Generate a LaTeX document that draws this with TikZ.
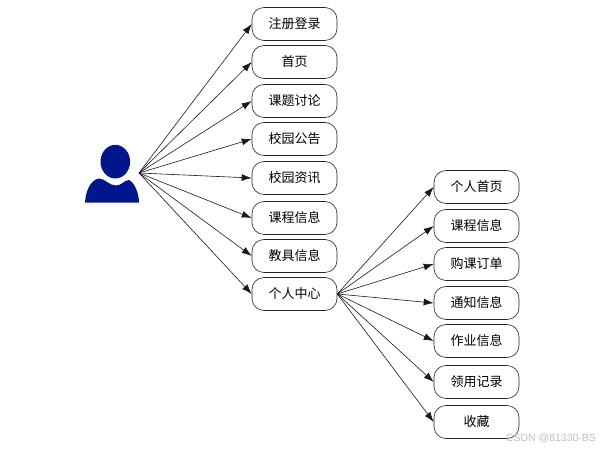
\documentclass[tikz,border=0pt]{standalone}
\usepackage{fontspec}
\setmainfont{Noto Sans CJK SC}
\setsansfont{Liberation Sans}
\usetikzlibrary{arrows.meta}
\definecolor{userblue}{RGB}{0,22,140}
\definecolor{markgray}{RGB}{190,190,190}

\begin{document}
\begin{tikzpicture}[x=1pt, y=-1pt,
    menubox/.style={draw=black!85, line width=0.6pt, rounded corners=12pt, minimum width=85pt, minimum height=33pt, inner sep=0pt, font=\fontsize{13}{15}\selectfont},
    link/.style={-{Latex[length=10pt, width=7pt]}, black!90, line width=0.6pt}]

    \useasboundingbox (0, 0) rectangle (606, 449);

    % ---------------------------------------------------
    % User figure
    % ---------------------------------------------------
    \fill[userblue] (115.3, 161.7) ellipse [x radius=14.8, y radius=16.8];
    \fill[userblue] (85, 202.7) .. controls (85.5, 192) and (90, 180) .. (99, 178.5) .. controls (105, 178.5) and (109, 185.5) .. (116, 185.5) .. controls (122, 185.5) and (124, 180) .. (129, 180) .. controls (135, 183) and (139, 194) .. (139, 202.7) -- cycle;
    \coordinate (user) at (139, 173);

    % ---------------------------------------------------
    % Main menu
    % ---------------------------------------------------
    \foreach \y/\name/\txt in {24/reg/注册登录, 62/home/首页, 101/forum/课题讨论, 139/notice/校园公告, 178/news/校园资讯, 218/course/课程信息, 256/tool/教具信息, 294/center/个人中心} {
        \node[menubox] (\name) at (294.5, \y) {\txt};
        \draw[link] (user) -- (\name.west);
    }

    % ---------------------------------------------------
    % Personal center menu
    % ---------------------------------------------------
    \foreach \y/\name/\txt in {187/mine/个人首页, 226/mycourse/课程信息, 264/order/购课订单, 303/inform/通知信息, 341/homework/作业信息, 382/record/领用记录, 422/favor/收藏} {
        \node[menubox] (\name) at (476.5, \y) {\txt};
        \draw[link] (center.east) -- (\name.west);
    }

    % Watermark
    \node[font=\sffamily\fontsize{10.5}{12}\selectfont, text=markgray, inner sep=0pt] (mark) at (551, 438) {CSDN @81330-BS};

\end{tikzpicture}
\end{document}
